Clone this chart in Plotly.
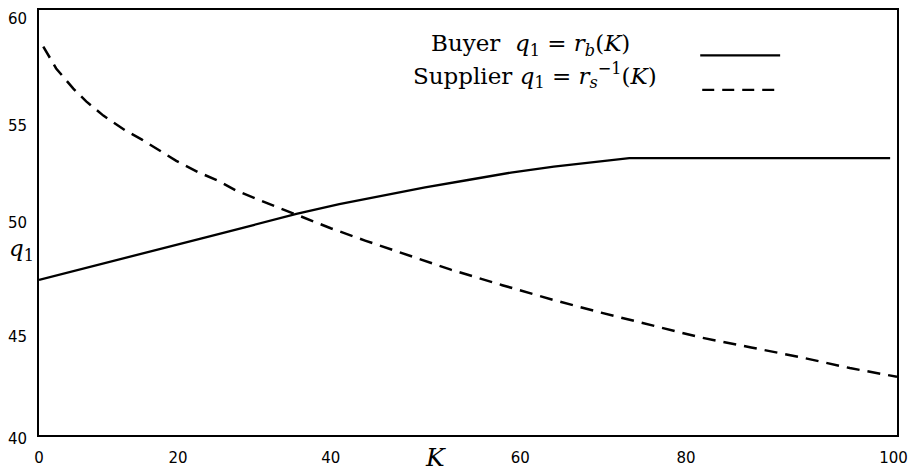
import plotly.graph_objects as go

# ---- data ----
buyer_K = [0, 5, 10, 15, 20, 25, 30, 35, 40, 45, 50, 55, 60, 65, 68.8, 99.2]
buyer_q = [47.30, 47.81, 48.31, 48.85, 49.36, 49.88, 50.41, 50.86, 51.26, 51.65,
           52.00, 52.35, 52.63, 52.86, 53.03, 53.03]

supplier_K = [0.5, 2, 4, 5.5, 7.5, 10, 12, 14, 16, 18.5, 21, 23, 25.5, 28, 30, 32,
              34, 38, 43, 48, 54, 60, 65.5, 71.5, 77, 83, 89, 94.5, 100]
supplier_q = [58.28, 57.25, 56.30, 55.70, 55.03, 54.35, 53.90, 53.38, 52.90, 52.38,
              51.94, 51.50, 51.08, 50.68, 50.37, 50.05, 49.73, 49.15, 48.46, 47.78,
              47.05, 46.35, 45.76, 45.14, 44.60, 44.12, 43.64, 43.15, 42.74]

x_tick_text = ["0", "20", "40", "60", "80", "100"]
y_tick_text = ["40", "45", "50", "55", "60"]

# where the scanned figure printed its tick labels (in axis units)
x_tick_label_pos = [0, 16.2, 34.0, 56.1, 75.4, 99.6]
y_tick_label_pos = [40, 44.83, 50.16, 54.76, 59.77]

W, H = 916, 475
L, R, T, B = 38, 19, 8, 36
pw, ph = W - L - R, H - T - B


def px(xp):
    return (xp - L) / pw


def py(yp):
    return (H - B - yp) / ph


fig = go.Figure()
fig.add_trace(go.Scatter(x=buyer_K, y=buyer_q, mode="lines",
                         line=dict(color="black", width=2.3),
                         showlegend=False, hoverinfo="skip"))
fig.add_trace(go.Scatter(x=supplier_K, y=supplier_q, mode="lines",
                         line=dict(color="black", width=2.5, dash="13px,8px"),
                         showlegend=False, hoverinfo="skip"))

serif = "DejaVu Serif"
sans = "DejaVu Sans"

annotations = [
    dict(text="Buyer  <i>q</i><sub>1</sub> = <i>r</i><sub><i>b</i></sub>(<i>K</i>)",
         x=px(530), y=py(44), xref="paper", yref="paper", showarrow=False,
         xanchor="center", yanchor="middle",
         font=dict(family=serif, size=23, color="black")),
    dict(text="Supplier <i>q</i><sub>1</sub> = <i>r</i><sub><i>s</i></sub><sup>\u22121</sup>(<i>K</i>)",
         x=px(535), y=py(74), xref="paper", yref="paper", showarrow=False,
         xanchor="center", yanchor="middle",
         font=dict(family=serif, size=23, color="black")),
    dict(text="<i>K</i>", x=px(435), y=py(462), xref="paper", yref="paper",
         showarrow=False, xanchor="center", yanchor="middle",
         font=dict(family=serif, size=25, color="black")),
    dict(text="<i>q</i><sub>1</sub>", x=px(6), y=py(251), xref="paper", yref="paper",
         showarrow=False, xanchor="left", yanchor="middle",
         font=dict(family=serif, size=23, color="black")),
]

shapes = [
    dict(type="line", xref="paper", yref="paper", x0=px(700), x1=px(780),
         y0=py(54), y1=py(54), line=dict(color="black", width=2.4)),
    dict(type="line", xref="paper", yref="paper", x0=px(702), x1=px(780),
         y0=py(89), y1=py(89), line=dict(color="black", width=2.4, dash="12px,8px")),
]

fig.update_layout(
    width=W, height=H,
    margin=dict(l=L, r=R, t=T, b=B),
    paper_bgcolor="white", plot_bgcolor="white",
    annotations=annotations, shapes=shapes,
    showlegend=False,
)
fig.update_xaxes(range=[0, 100], tickvals=x_tick_label_pos, ticktext=x_tick_text,
                 showgrid=False, zeroline=False, showline=True, mirror=True,
                 linecolor="black", linewidth=2, ticks="",
                 ticklabelstandoff=8, ticklabeloverflow="allow",
                 tickfont=dict(family=sans, size=15, color="black"))
fig.update_yaxes(range=[40, 60], tickvals=y_tick_label_pos, ticktext=y_tick_text,
                 showgrid=False, zeroline=False, showline=True, mirror=True,
                 linecolor="black", linewidth=2, ticks="",
                 ticklabelstandoff=7, ticklabelshift=4, ticklabeloverflow="allow",
                 tickfont=dict(family=sans, size=15, color="black"))

fig.write_html("out.html")
